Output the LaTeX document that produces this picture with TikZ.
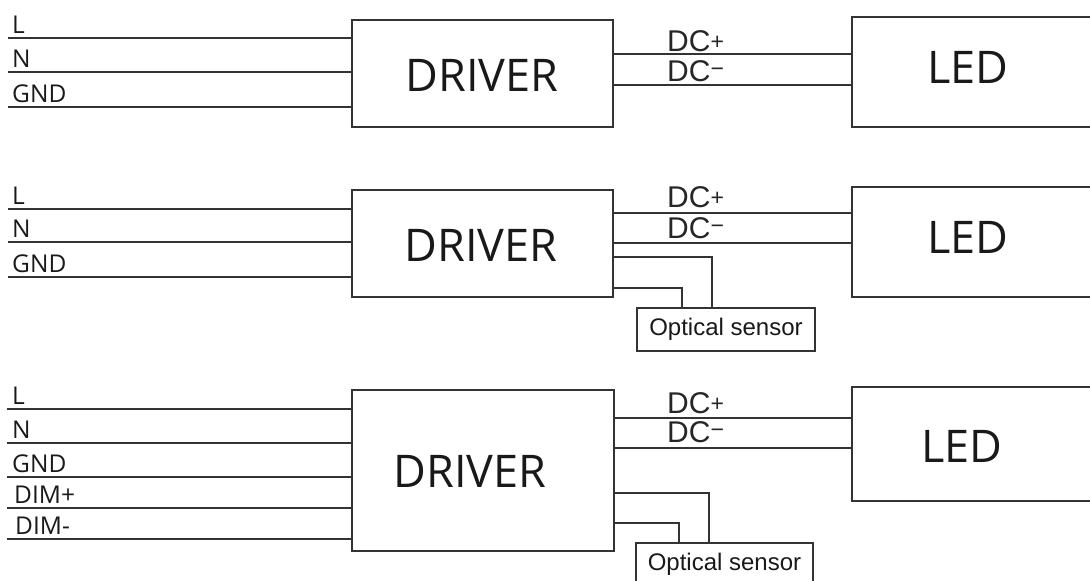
\documentclass[tikz,border=0pt]{standalone}
\usepackage{fontspec}
\newfontfamily\osfont{Open Sans}
\newfontfamily\lsfont{Liberation Sans}
\begin{document}
\begin{tikzpicture}[x=1pt,y=-1pt,
  wire/.style={draw=black!80,line width=1.2pt},
  box/.style={draw=black!80,line width=1.2pt,rectangle,anchor=north west,inner sep=0pt,outer sep=0pt},
  bigtxt/.style={font=\osfont\fontsize{45}{45}\selectfont,text=black!90,inner sep=0pt},
  pin/.style={font=\osfont\fontsize{24.5}{24.5}\selectfont,text=black!90,anchor=base west,inner sep=0pt},
  dc/.style={font=\lsfont\fontsize{30}{30}\selectfont,text=black!85,anchor=base west,inner sep=0pt},
  senstxt/.style={font=\lsfont\fontsize{24}{24}\selectfont,text=black!90,inner sep=0pt}]
\useasboundingbox (0,0) rectangle (1090,581);
\newcommand{\dcplus}{DC{\fontsize{23}{23}\selectfont\raisebox{1.5pt}{+}}}
\newcommand{\dcminus}{DC{\fontsize{23}{23}\selectfont\raisebox{5pt}{\char"2212}}}

% ---------- Row 1 ----------
\node[box,minimum width=261pt,minimum height=107pt] (drvA) at (352,20) {};
\node[bigtxt] (drvAt) at (482,75) {DRIVER};
\node[box,minimum width=300pt,minimum height=110pt] (ledA) at (852,17) {};
\node[bigtxt] (ledAt) at (968,67) {LED};
\foreach \n/\y/\lab in {aL/38/L,aN/72/N,aG/107/GND}{
  \coordinate (\n) at (8,\y);
  \draw[wire] (\n) -- (\n -| drvA.west);
  \node[pin] (\n t) at (12,\y-5) {\lab};
}
\coordinate (aP) at (613,54);
\coordinate (aM) at (613,85);
\draw[wire] (aP -| drvA.east) -- (aP -| ledA.west);
\draw[wire] (aM -| drvA.east) -- (aM -| ledA.west);
\node[dc] (aPt) at (667,51) {\dcplus};
\node[dc] (aMt) at (667,81) {\dcminus};

% ---------- Row 2 ----------
\node[box,minimum width=261pt,minimum height=107pt] (drvB) at (352,190) {};
\node[bigtxt] (drvBt) at (481,245) {DRIVER};
\node[box,minimum width=300pt,minimum height=110pt] (ledB) at (852,187) {};
\node[bigtxt] (ledBt) at (968,237) {LED};
\foreach \n/\y/\lab in {bL/209/L,bN/242/N,bG/277/GND}{
  \coordinate (\n) at (8,\y);
  \draw[wire] (\n) -- (\n -| drvB.west);
  \node[pin] (\n t) at (12,\y-5) {\lab};
}
\coordinate (bP) at (613,213);
\coordinate (bM) at (613,243);
\draw[wire] (bP -| drvB.east) -- (bP -| ledB.west);
\draw[wire] (bM -| drvB.east) -- (bM -| ledB.west);
\node[dc] (bPt) at (667,207) {\dcplus};
\node[dc] (bMt) at (667,238) {\dcminus};
\node[box,minimum width=178pt,minimum height=43pt] (sensB) at (637,308) {};
\node[senstxt] (sensBt) at (sensB.center) {Optical sensor};
\coordinate (bS1) at (613,257);
\coordinate (bS2) at (613,288);
\coordinate (bX1) at (712,308);
\coordinate (bX2) at (682,308);
\draw[wire] (bS1 -| drvB.east) -| (bX1 |- sensB.north);
\draw[wire] (bS2 -| drvB.east) -| (bX2 |- sensB.north);

% ---------- Row 3 ----------
\node[box,minimum width=262pt,minimum height=161pt] (drvC) at (352,390) {};
\node[bigtxt] (drvCt) at (470,471) {DRIVER};
\node[box,minimum width=300pt,minimum height=114pt] (ledC) at (852,387) {};
\node[bigtxt] (ledCt) at (962,446) {LED};
\foreach \n/\y/\lab/\lx in {cL/409/L/12,cN/443/N/12,cG/477/GND/12,cD/508/DIM+/14,cE/539/DIM-/15}{
  \coordinate (\n) at (7,\y);
  \draw[wire] (\n) -- (\n -| drvC.west);
  \node[pin] (\n t) at (\lx,\y-5) {\lab};
}
\coordinate (cP) at (614,418);
\coordinate (cM) at (614,448);
\draw[wire] (cP -| drvC.east) -- (cP -| ledC.west);
\draw[wire] (cM -| drvC.east) -- (cM -| ledC.west);
\node[dc] (cPt) at (667,413) {\dcplus};
\node[dc] (cMt) at (667,442) {\dcminus};
\node[box,minimum width=177pt,minimum height=43pt] (sensC) at (636,543) {};
\node[senstxt] (sensCt) at (sensC.center) {Optical sensor};
\coordinate (cS1) at (614,493);
\coordinate (cS2) at (614,523);
\coordinate (cX1) at (709,543);
\coordinate (cX2) at (679,543);
\draw[wire] (cS1 -| drvC.east) -| (cX1 |- sensC.north);
\draw[wire] (cS2 -| drvC.east) -| (cX2 |- sensC.north);
\end{tikzpicture}
\end{document}
